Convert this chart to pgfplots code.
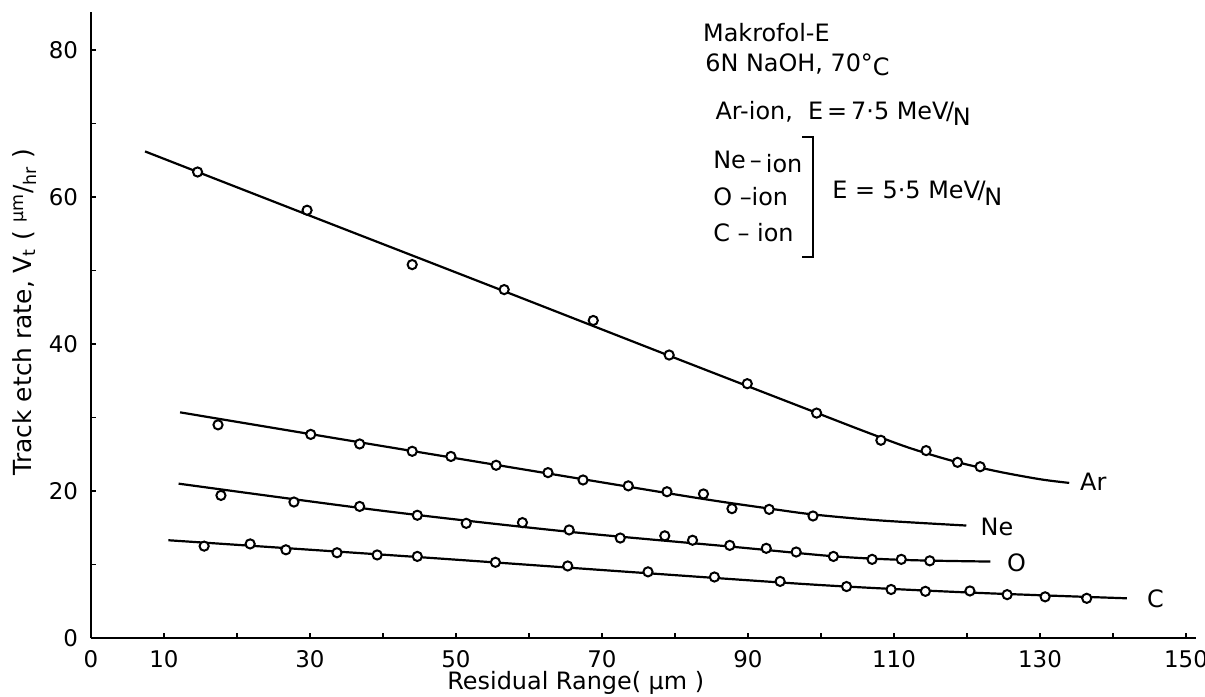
\documentclass[border=0pt]{standalone}
\usepackage{fontspec}
\setmainfont{DejaVu Sans}
\usepackage{pgfplots}
\pgfplotsset{compat=1.18}
\begin{document}
\begin{tikzpicture}
\begin{axis}[
  x=3.65bp, y=3.675bp,
  xmin=0, xmax=151.4, ymin=0, ymax=85.2,
  axis x line=bottom, axis y line=left,
  axis line style={-, line width=1.2bp, black},
  tick align=inside, major tick length=2.5bp,
  tick style={line width=0.9bp, black},
  xtick={0,10,...,150},
  xticklabels={0,10,,30,,50,,70,,90,,110,,130,,150},
  ytick={0,10,...,80},
  yticklabels={0,,20,,40,,60,,80},
  ticklabel style={font=\fontsize{11.5}{13}\selectfont},
  xticklabel style={yshift=-2.5bp},
  yticklabel style={xshift=-3bp},
  /pgf/number format/assume math mode=true,
  xlabel={Residual Range( µm )},
  ylabel={Track etch rate, V\textsubscript{t} ( \textsuperscript{µm}/\textsubscript{hr} )},
  xlabel style={at={(axis description cs:0.4386,-0.0716)}, anchor=center, font=\fontsize{12}{14}\selectfont},
  ylabel style={at={(axis description cs:-0.0597,0.521)}, anchor=center, font=\fontsize{12.5}{14}\selectfont},
  clip=false,
  every axis plot/.append style={black},
]
% ---- measured points ----
\addplot[only marks, mark=*, mark size=2.3bp, mark options={fill=white, draw=black, line width=1bp}] coordinates {
(14.6,63.4) (29.6,58.2) (44.0,50.8) (56.6,47.4) (68.8,43.2) (79.2,38.5) (89.9,34.6) (99.4,30.6) (108.2,26.9) (114.4,25.5) (118.7,23.9) (121.8,23.3)};
\addplot[only marks, mark=*, mark size=2.3bp, mark options={fill=white, draw=black, line width=1bp}] coordinates {
(17.4,29.0) (30.1,27.7) (36.8,26.4) (44.0,25.4) (49.3,24.7) (55.5,23.5) (62.6,22.5) (67.4,21.5) (73.6,20.7) (78.9,19.9) (83.9,19.6) (87.8,17.6) (92.9,17.5) (98.9,16.6)};
\addplot[only marks, mark=*, mark size=2.3bp, mark options={fill=white, draw=black, line width=1bp}] coordinates {
(17.8,19.4) (27.8,18.5) (36.8,17.9) (44.7,16.7) (51.4,15.6) (59.1,15.7) (65.5,14.7) (72.5,13.6) (78.6,13.9) (82.4,13.3) (87.5,12.6) (92.5,12.2) (96.6,11.7) (101.7,11.1) (107.0,10.7) (111.0,10.7) (114.9,10.5)};
\addplot[only marks, mark=*, mark size=2.3bp, mark options={fill=white, draw=black, line width=1bp}] coordinates {
(15.5,12.5) (21.8,12.8) (26.7,12.0) (33.7,11.6) (39.2,11.3) (44.7,11.1) (55.4,10.3) (65.3,9.8) (76.3,9.0) (85.4,8.3) (94.4,7.7) (103.5,7.0) (109.6,6.6) (114.3,6.35) (120.4,6.4) (125.5,5.9) (130.7,5.6) (136.4,5.4)};
% ---- fitted curves ----
\addplot[no marks, line width=1.1bp, smooth, tension=0.5] coordinates {
(7.4,66.2) (30,57.45) (55,47.8) (80,38.1) (100,30.4) (106,28.1) (112,25.9) (118,24.1) (124,22.7) (130,21.6) (134,21.1)};
\addplot[no marks, line width=1.1bp, smooth, tension=0.5] coordinates {
(12.2,30.7) (40,26.1) (67.4,21.6) (84,18.9) (93,17.6) (99,16.8) (108,16.0) (119.9,15.3)};
\addplot[no marks, line width=1.1bp, smooth, tension=0.5] coordinates {
(12.0,21.0) (40,17.3) (65,14.5) (88,12.4) (102,11.1) (112,10.6) (123.2,10.4)};
\addplot[no marks, line width=1.1bp, smooth, tension=0.5] coordinates {
(10.6,13.3) (45,11.0) (75,8.9) (100,7.2) (120,6.2) (141.9,5.4)};
% ---- curve labels ----
\node[anchor=center, font=\fontsize{12}{14}\selectfont] at (axis cs:137.3,21.2) {Ar};
\node[anchor=center, font=\fontsize{12}{14}\selectfont] at (axis cs:124.1,15.1) {Ne};
\node[anchor=center, font=\fontsize{12}{14}\selectfont] at (axis cs:126.8,10.2) {O};
\node[anchor=center, font=\fontsize{12}{14}\selectfont] at (axis cs:145.8,5.4) {C};
% ---- annotation ----
\node[anchor=west, inner sep=0pt, font=\fontsize{12}{14}\selectfont] at (axis cs:83.8,82.4) {Makrofol-E};
\node[anchor=west, inner sep=0pt, font=\fontsize{12}{14}\selectfont] at (axis cs:84.1,78.0) {6N NaOH, 70°\raisebox{-0.3ex}{C}};
\node[anchor=west, inner sep=0pt, font=\fontsize{12}{14}\selectfont] at (axis cs:85.5,71.4) {Ar-ion,\ \ E\,=\,7·5 MeV\kern-0.1em/\kern-0.05em\raisebox{-0.5ex}{N}};
\node[anchor=west, inner sep=0pt, font=\fontsize{12}{14}\selectfont] at (axis cs:85.2,64.8) {Ne\,–\,\raisebox{-0.3ex}{ion}};
\node[anchor=west, inner sep=0pt, font=\fontsize{12}{14}\selectfont] at (axis cs:85.2,60.0) {O\ –ion};
\node[anchor=west, inner sep=0pt, font=\fontsize{12}{14}\selectfont] at (axis cs:85.2,55.1) {C\ –\ ion};
\draw[line width=1bp] (axis cs:97.4,68.2) -- (axis cs:98.9,68.2) -- (axis cs:98.9,51.8) -- (axis cs:97.4,51.8);
\node[anchor=west, inner sep=0pt, font=\fontsize{12}{14}\selectfont] at (axis cs:101.5,60.5) {E = 5·5 MeV\kern-0.1em/\kern-0.05em\raisebox{-0.5ex}{N}};
\end{axis}
\pgfresetboundingbox
\useasboundingbox (-45.5bp,-29.5bp) rectangle (557bp,319bp);
\end{tikzpicture}
\end{document}
